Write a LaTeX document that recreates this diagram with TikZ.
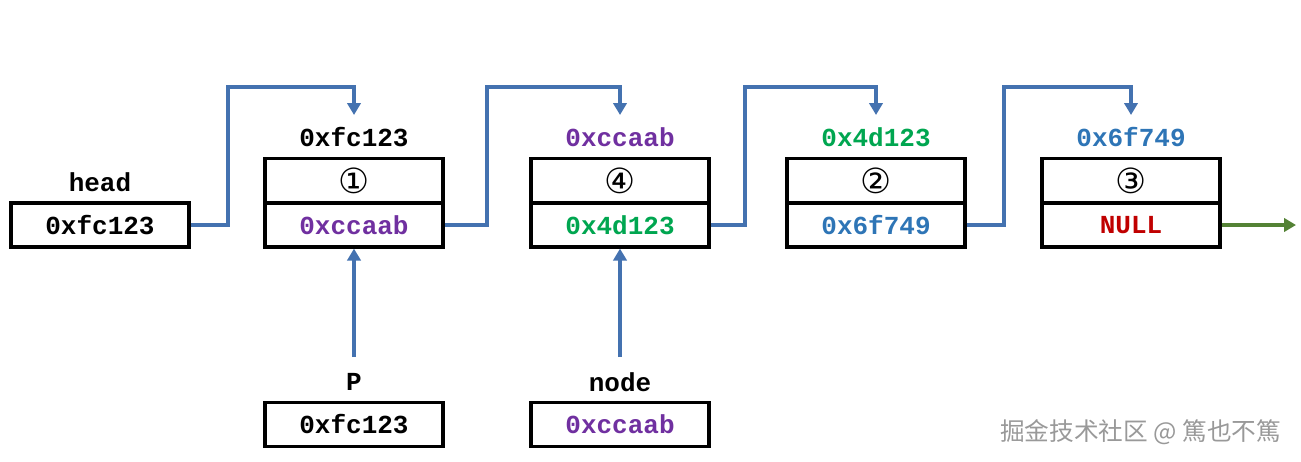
\documentclass[tikz,border=0pt]{standalone}
\usetikzlibrary{arrows.meta}
\usepackage{fontspec}
\setmonofont{Liberation Mono}
\newfontfamily\djv{DejaVu Sans}
\newfontfamily\cjk{Noto Sans CJK SC}
\definecolor{cpur}{RGB}{112,48,160}
\definecolor{cgrn}{RGB}{0,166,80}
\definecolor{cblu}{RGB}{46,117,182}
\definecolor{cred}{RGB}{192,0,0}
\definecolor{carr}{RGB}{68,114,176}
\definecolor{cgar}{RGB}{84,130,53}
\begin{document}
\begin{tikzpicture}[x=0.75pt,y=-0.75pt,
  txt/.style={font=\ttfamily\bfseries\fontsize{19.5}{20}\selectfont,inner sep=0},
  cell/.style={draw,line width=2.4pt,minimum width=133.5pt,minimum height=33pt,inner sep=0,font=\ttfamily\bfseries\fontsize{19.5}{20}\selectfont},
  num/.style={cell,font=\djv\fontsize{26}{26}\selectfont},
  link/.style={draw=carr,line width=2.6pt,-{Triangle[length=9pt,width=10pt]}}]
\useasboundingbox (0,0) rectangle (1301,461);
% head
\node[cell] (h) at (100,225) {0xfc123};
\node[txt] (hl) at (100,182) {head};
% list nodes
\node[num] (n1t) at (354,180.5) {①};
\node[cell,text=cpur] (n1b) at (354,225) {0xccaab};
\node[txt] (n1l) at (354,137) {0xfc123};
\node[num] (n4t) at (620,180.5) {④};
\node[cell,text=cgrn] (n4b) at (620,225) {0x4d123};
\node[txt,text=cpur] (n4l) at (620,137) {0xccaab};
\node[num] (n2t) at (876,180.5) {②};
\node[cell,text=cblu] (n2b) at (876,225) {0x6f749};
\node[txt,text=cgrn] (n2l) at (876,137) {0x4d123};
\node[num] (n3t) at (1131,180.5) {③};
\node[cell,text=cred] (n3b) at (1131,225) {NULL};
\node[txt,text=cblu] (n3l) at (1131,137) {0x6f749};
% P and node
\node[cell] (p) at (354,424.5) {0xfc123};
\node[txt] (pl) at (354,382) {P};
\node[cell,text=cpur] (nd) at (620,424.5) {0xccaab};
\node[txt] (ndl) at (620,382) {node};
\coordinate (pe) at (354,357);
\coordinate (nde) at (620,357);
\coordinate (nul) at (1296,225);
% links
\draw[link] (h.east) -- (228,225) -- (228,87) -- (354,87) -- (354,115);
\draw[link] (n1b.east) -- (487,225) -- (487,87) -- (620,87) -- (620,115);
\draw[link] (n4b.east) -- (745,225) -- (745,87) -- (876,87) -- (876,115);
\draw[link] (n2b.east) -- (1004,225) -- (1004,87) -- (1131,87) -- (1131,115);
\draw[link] (pe) -- (n1b.south);
\draw[link] (nde) -- (n4b.south);
\draw[draw=cgar,line width=2.6pt,-{Triangle[length=9pt,width=10pt]}] (n3b.east) -- (nul);
\node[font=\cjk\fontsize{18.5}{20}\selectfont,text=gray!80,anchor=east] (wm) at (1286,432) {掘金技术社区 @ 篤也不篤};
\end{tikzpicture}
\end{document}
